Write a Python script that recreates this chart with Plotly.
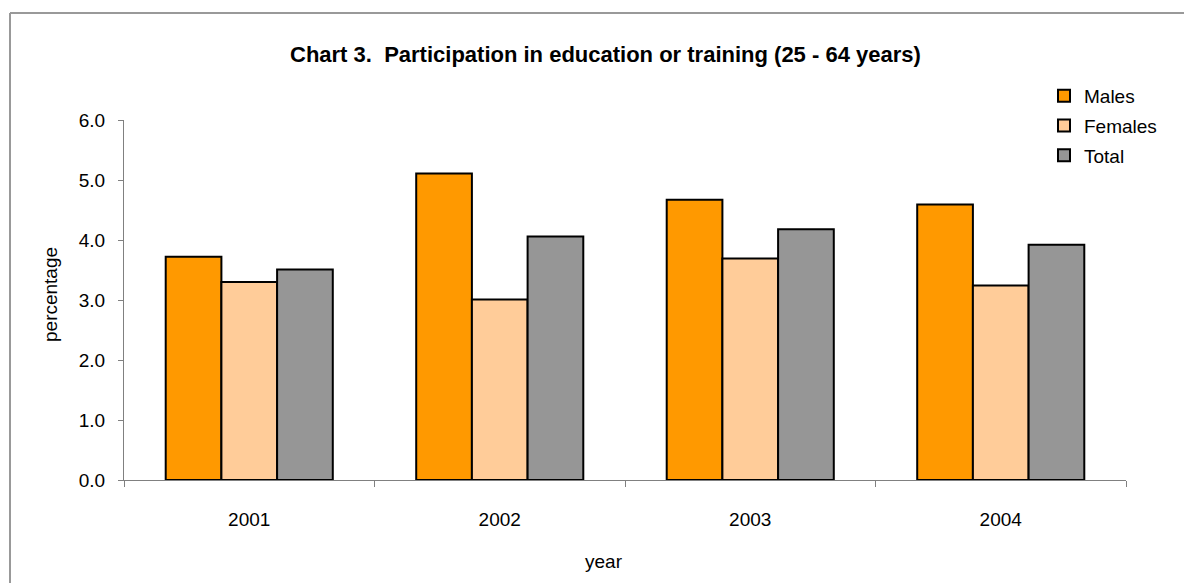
import plotly.graph_objects as go

years = ["2001", "2002", "2003", "2004"]
males = [3.72, 5.11, 4.67, 4.59]
females = [3.30, 3.01, 3.69, 3.24]
total = [3.51, 4.06, 4.18, 3.92]

FONT = "Liberation Sans, Arial, sans-serif"
W, H = 1184, 583
L, R, T, B = 124, 58, 120, 103
PW, PH = W - L - R, H - T - B


def px_x(x):
    return (x - L) / PW


def px_y(y):
    return (H - B - y) / PH


fig = go.Figure()
series = [("Males", males, "#FF9900"), ("Females", females, "#FFCC99"), ("Total", total, "#969696")]
for name, vals, col in series:
    fig.add_trace(go.Bar(
        x=years, y=vals, name=name, legendgroup=name,
        marker=dict(color=col, line=dict(color="#000000", width=2)),
    ))

fig.update_layout(
    width=W, height=H,
    margin=dict(l=L, r=R, t=T, b=B),
    paper_bgcolor="white", plot_bgcolor="white",
    barmode="group", bargap=0.333, bargroupgap=0,
    font=dict(family=FONT, size=19, color="#000000"),
    showlegend=True,
    legend=dict(
        x=px_x(1044), y=px_y(77), xanchor="left", yanchor="top",
        font=dict(family=FONT, size=19, color="#000000"),
        bgcolor="rgba(0,0,0,0)", traceorder="grouped", tracegroupgap=2,
        itemwidth=30,
    ),
    xaxis=dict(
        type="category", showline=True, linecolor="#808080", linewidth=1,
        ticks="outside", ticklen=6, tickcolor="#808080", tickson="boundaries",
        ticklabelstandoff=22, showgrid=False, zeroline=False,
        tickfont=dict(family=FONT, size=19),
    ),
    yaxis=dict(
        range=[0, 6], dtick=1, tickformat=".1f", showline=True,
        linecolor="#808080", linewidth=1, ticks="outside", ticklen=5,
        tickcolor="#808080", ticklabelstandoff=9, showgrid=False, zeroline=False,
        tickfont=dict(family=FONT, size=19),
    ),
    annotations=[
        dict(text="<b>Chart 3.\u00a0 Participation in education or training (25 - 64 years)</b>",
             xref="paper", yref="paper", x=px_x(605), y=px_y(55),
             xanchor="center", yanchor="middle", showarrow=False,
             font=dict(family=FONT, size=22)),
        dict(text="year", xref="paper", yref="paper", x=px_x(604), y=px_y(561),
             xanchor="center", yanchor="middle", showarrow=False,
             font=dict(family=FONT, size=19)),
        dict(text="percentage", xref="paper", yref="paper", x=px_x(50), y=px_y(295),
             xanchor="center", yanchor="middle", showarrow=False, textangle=-90,
             font=dict(family=FONT, size=19)),
    ],
    shapes=[
        # chart frame: only the top and left edges fall inside the page
        dict(type="line", xref="paper", yref="paper",
             x0=px_x(10), y0=px_y(13), x1=px_x(W), y1=px_y(13),
             line=dict(color="#999999", width=2), layer="below"),
        dict(type="line", xref="paper", yref="paper",
             x0=px_x(10), y0=px_y(13), x1=px_x(10), y1=px_y(H),
             line=dict(color="#999999", width=2), layer="below"),
    ],
)

fig.write_html("out.html")
